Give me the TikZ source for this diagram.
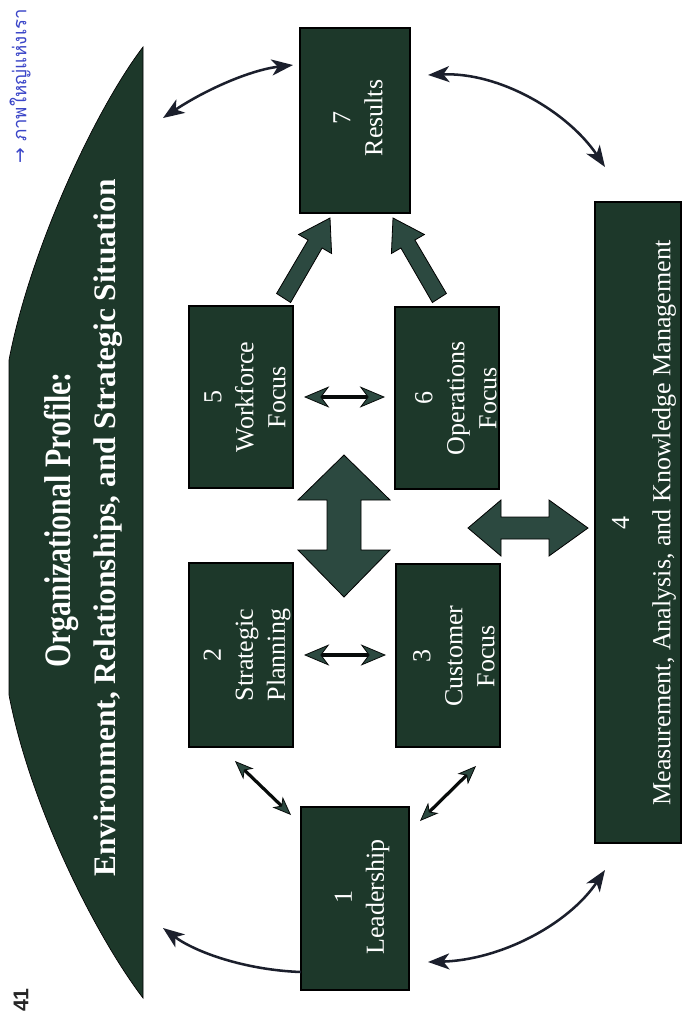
\documentclass[tikz,border=0pt]{standalone}
\usepackage{fontspec}
\setmainfont{Liberation Serif}
\newfontfamily\titlefont[FakeStretch=0.8]{Liberation Serif}
\newfontfamily\subfont{Liberation Serif}
\newfontfamily\boxfont{Liberation Serif}
\newfontfamily\thaifont[Script=Thai]{Loma}
\newfontfamily\symfont{DejaVu Sans}
\newfontfamily\pagefont{Liberation Sans}
\usetikzlibrary{arrows.meta}
\definecolor{boxgreen}{HTML}{1D382A}
\definecolor{arrowgreen}{HTML}{2C4940}
\definecolor{curvecol}{HTML}{1B1F2C}
\definecolor{penblue}{HTML}{3A45C8}
\tikzset{
  box/.style={draw=black, line width=0.8pt, fill=boxgreen, inner sep=0pt, outer sep=0pt},
  boxtext/.style={rotate=90, text=white, align=center, inner sep=0pt,
    font=\boxfont\fontsize{19.5pt}{24pt}\selectfont},
  fat/.style={fill=arrowgreen, draw=black, line width=0.6pt, line join=miter},
  curve/.style={draw=curvecol, line width=1.9pt},
  small/.style={draw=black!85!arrowgreen, line width=2.8pt},
  ctip/.tip={Stealth[length=16pt, width=12pt, inset=4.5pt]},
  stip/.tip={Stealth[length=19pt, width=16pt, inset=6pt, fill=arrowgreen, line width=0.6pt 0 1]},
  dtip/.tip={Stealth[length=14pt, width=11pt, inset=4pt, fill=arrowgreen, line width=0.6pt 0 1]},
}
\begin{document}
\begin{tikzpicture}[x=0.75pt, y=-0.75pt]
\useasboundingbox (0,0) rectangle (685,1022);
\fill[white] (0,0) rectangle (685,1022);

% Organizational profile
\path[fill=boxgreen, draw=black, line width=0.5pt]
  (143,47) .. controls (95,110) and (30,250) .. (9,360) -- (9,695)
  .. controls (30,805) and (95,935) .. (143,998) -- cycle;
\node[rotate=90, text=white, inner sep=0pt,
  font=\titlefont\bfseries\fontsize{28pt}{30pt}\selectfont] (title) at (61,520) {Organizational Profile:};
\node[rotate=90, text=white, inner sep=0pt,
  font=\subfont\bfseries\fontsize{23.5pt}{26pt}\selectfont] (sub) at (108,528) {Environment, Relationships, and Strategic Situation};

% page number and handwritten note
\node[rotate=90, text=black!85, inner sep=0pt,
  font=\pagefont\bfseries\fontsize{16pt}{18pt}\selectfont] (pg) at (21,1000) {41};
\node[rotate=90, anchor=west, text=penblue, inner sep=0pt,
  font=\thaifont\fontsize{14pt}{16pt}\selectfont] (note) at (20,164) {{\symfont →} ภาพใหญ่แห่งเรา};

% boxes
\node[box, minimum width=82.5pt, minimum height=138.75pt] (b7) at (355,120.5) {};
\node[box, minimum width=78pt, minimum height=136.5pt] (b5) at (241,397) {};
\node[box, minimum width=78pt, minimum height=136.5pt] (b6) at (447,398) {};
\node[box, minimum width=78pt, minimum height=138pt] (b2) at (241,655) {};
\node[box, minimum width=78pt, minimum height=137.25pt] (b3) at (448,655.5) {};
\node[box, minimum width=81pt, minimum height=137.25pt] (b1) at (355,898.5) {};
\node[box, minimum width=64.5pt, minimum height=480.75pt] (b4) at (638,522.5) {};

\node[boxtext] (t7) at (358,118) {7\\Results};
\node[boxtext] (t5) at (245,397) {5\\Workforce\\Focus};
\node[boxtext] (t6) at (456,398) {6\\Operations\\Focus};
\node[boxtext] (t2) at (247,655) {2\\Strategic\\Planning};
\node[boxtext] (t3) at (454,656) {3\\Customer\\Focus};
\node[boxtext] (t1) at (362,897) {1\\Leadership};
\node[boxtext, font=\boxfont\fontsize{19.5pt}{31pt}\selectfont] (t4) at (644,523)
  {4\\Measurement, Analysis, and Knowledge Management};

% fat arrows
\path[fat] (344,455) -- (390,500) -- (361,500) -- (361,550) -- (390,550) -- (344,597)
  -- (298,550) -- (327,550) -- (327,500) -- (298,500) -- cycle;
\path[fat] (468,528) -- (501,500) -- (501,517) -- (549,517) -- (549,500) -- (588,528)
  -- (549,556) -- (549,539) -- (501,539) -- (501,556) -- cycle;
\path[fat] (276.6,293.5) -- (308.1,240.0) -- (298.6,234.5) -- (330,218) -- (331.6,253.5)
  -- (322.1,248.0) -- (290.6,302.5) -- cycle;
\path[fat] (446.4,293.5) -- (414.9,240.0) -- (424.4,234.5) -- (393,218) -- (391.4,253.5)
  -- (400.9,248.0) -- (432.4,302.5) -- cycle;

% small double arrows
\draw[small, stip-stip] ([xshift=8.25pt]b5.east) -- ([xshift=-7.5pt]b5.east -| b6.west);
\draw[small, stip-stip] ([xshift=8.25pt]b2.east) -- ([xshift=-7.5pt]b2.east -| b3.west);
\coordinate (d1s) at ([shift={(-6,14)}]b2.south);
\coordinate (d1e) at ([shift={(-10,8)}]b1.north west);
\coordinate (d2s) at ([shift={(-24,19)}]b3.south east);
\coordinate (d2e) at ([shift={(11,14)}]b1.north east);
\draw[small, line width=2.4pt, dtip-dtip] (d1s) -- (d1e);
\draw[small, line width=2.4pt, dtip-dtip] (d2s) -- (d2e);

% curved arrows
\coordinate (c1s) at (163,118);
\coordinate (c1e) at ([xshift=-5.25pt]b7.west |- 0,65);
\coordinate (c2s) at (b1.west |- 0,972);
\coordinate (c2e) at (163,928);
\coordinate (c3s) at ([xshift=13.5pt]b7.east |- 0,75);
\coordinate (c3e) at ([xshift=7.5pt]b4.north west |- 0,167);
\coordinate (c4s) at ([xshift=7.5pt]b4.south west |- 0,870);
\coordinate (c4e) at ([xshift=14.25pt]b1.east |- 0,962);
\draw[curve, ctip-ctip] (c1s) .. controls (205,90) and (250,70) .. (c1e);
\draw[curve, -ctip] (c2s) .. controls (245,970) and (195,952) .. (c2e);
\draw[curve, ctip-ctip] (c3s) .. controls (500,72) and (568,112) .. (c3e);
\draw[curve, ctip-ctip] (c4s) .. controls (568,925) and (500,960) .. (c4e);
\end{tikzpicture}
\end{document}
